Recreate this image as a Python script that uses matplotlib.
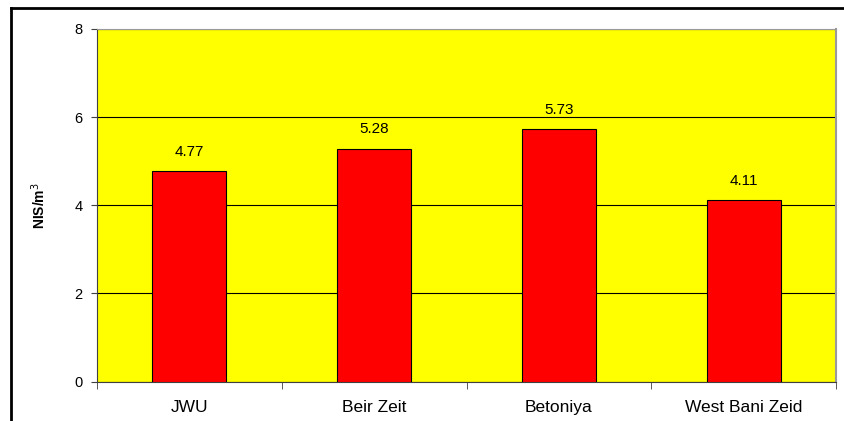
import numpy as np
import matplotlib.pyplot as plt
from matplotlib.lines import Line2D

sites = ["JWU", "Beir Zeit", "Betoniya", "West Bani Zeid"]
costs = [4.77, 5.28, 5.73, 4.11]
value_labels = ["4.77", "5.28", "5.73", "4.11"]

fig = plt.figure(figsize=(8.44, 4.21), dpi=100)
ax = fig.add_axes([97 / 844, 1 - 381.5 / 421, (836 - 97) / 844, (381.5 - 29) / 421])
ax.set_facecolor("#FFFF00")

x = np.arange(len(sites))
ax.bar(x, costs, width=0.4, color="#FF0000", edgecolor="black", linewidth=0.8, zorder=3)

for xi, v, lab in zip(x, costs, value_labels):
    ax.annotate(lab, (xi, v), xytext=(0, 9), textcoords="offset points",
                ha="center", va="bottom", fontsize=11, family="Liberation Sans")

ax.set_xlim(-0.5, 3.5)
ax.set_ylim(0, 8)
ax.set_yticks([0, 2, 4, 6, 8])
ax.yaxis.grid(True, color="black", linewidth=0.8, zorder=1)
ax.set_axisbelow(True)

ax.set_xticks(x)
ax.set_xticklabels(sites, fontsize=12.5, family="Liberation Sans")
ax.tick_params(axis="x", which="major", length=0, pad=13)
ax.set_xticks([-0.5, 0.5, 1.5, 2.5, 3.5], minor=True)
ax.tick_params(axis="x", which="minor", length=5, color="#404040", direction="out")
ax.tick_params(axis="y", length=4.5, color="#404040", labelsize=10.5, pad=6)
for t in ax.get_yticklabels():
    t.set_family("Liberation Sans")

ax.spines["left"].set_color("#404040")
ax.spines["bottom"].set_color("#404040")
ax.spines["top"].set_color("#999999")
ax.spines["right"].set_color("#999999")
ax.spines["right"].set_linewidth(1.5)

ax.set_ylabel("NIS/m$^3$", fontsize=10, fontweight="bold", family="Liberation Sans")
ax.yaxis.set_label_coords(-0.066, 0.5)

# outer frame (left and top edges visible)
fig.add_artist(Line2D([11 / 844, 11 / 844], [0, 1 - 7.5 / 421], color="black", linewidth=2, transform=fig.transFigure))
fig.add_artist(Line2D([11 / 844, 1], [1 - 7.5 / 421, 1 - 7.5 / 421], color="black", linewidth=2, transform=fig.transFigure))

fig.savefig("out.png", dpi=100)
